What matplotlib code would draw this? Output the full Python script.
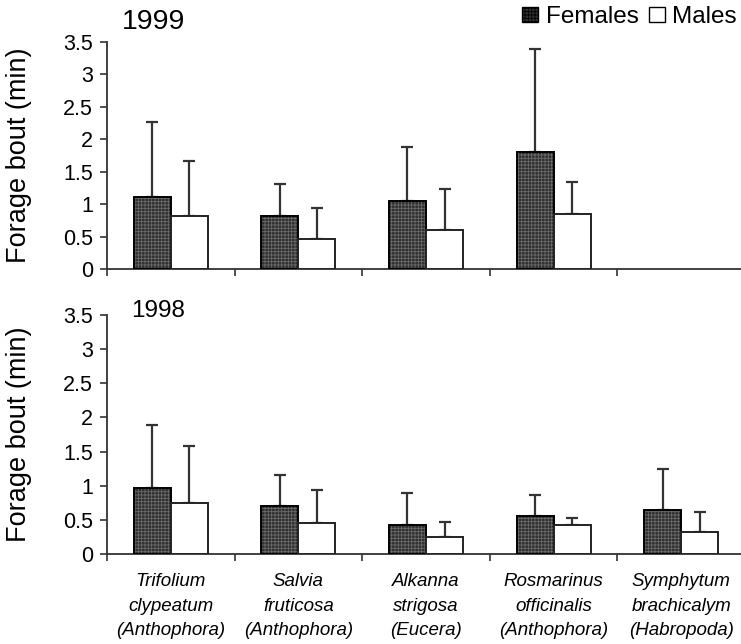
import numpy as np
import matplotlib
matplotlib.use("Agg")
import matplotlib.pyplot as plt
from matplotlib.patches import Patch

plt.rcParams['font.family'] = ['Liberation Sans', 'DejaVu Sans']
plt.rcParams['hatch.linewidth'] = 0.6

# plant species (bee genus) on the x axis
species = ['Trifolium\nclypeatum\n(Anthophora)',
           'Salvia\nfruticosa\n(Anthophora)',
           'Alkanna\nstrigosa\n(Eucera)',
           'Rosmarinus\nofficinalis\n(Anthophora)',
           'Symphytum\nbrachicalym\n(Habropoda)']

# 1999 (no data for Symphytum)
fem_1999 = [1.11, 0.82, 1.05, 1.80, np.nan]
fem_1999_sd = [1.16, 0.49, 0.83, 1.59, np.nan]
male_1999 = [0.82, 0.47, 0.60, 0.85, np.nan]
male_1999_sd = [0.84, 0.48, 0.64, 0.49, np.nan]

# 1998
fem_1998 = [0.96, 0.71, 0.43, 0.55, 0.65]
fem_1998_sd = [0.93, 0.44, 0.46, 0.32, 0.60]
male_1998 = [0.75, 0.45, 0.25, 0.43, 0.32]
male_1998_sd = [0.83, 0.48, 0.22, 0.10, 0.29]

yticks = [0, 0.5, 1, 1.5, 2, 2.5, 3, 3.5]
ytick_labels = ['0', '0.5', '1', '1.5', '2', '2.5', '3', '3.5']

W, H = 741, 644
fig = plt.figure(figsize=(W / 100, H / 100), dpi=100)
ax_top = fig.add_axes([107 / W, 1 - 269.3 / H, 638 / W, 227.6 / H])
ax_bot = fig.add_axes([107 / W, 1 - 554 / H, 638 / W, 239 / H])

bw = 0.29
x = np.arange(len(species)) + 0.5
axis_col = '#333333'


def draw_panel(ax, fem, fem_sd, male, male_sd):
    xf = x - bw / 2
    xm = x + bw / 2
    # textured dark bars for females
    ax.bar(xf, fem, bw, color='#2e2e2e', hatch='+++++', edgecolor='#6a6a6a',
           linewidth=0, zorder=2)
    ax.bar(xf, fem, bw, fill=False, edgecolor='black', linewidth=1.4, zorder=3)
    ax.bar(xm, male, bw, color='white', edgecolor='#222222', linewidth=1.4, zorder=3)
    # only upper error bars
    ax.errorbar(xf, fem, yerr=[np.zeros(len(fem)), fem_sd], fmt='none',
                ecolor=axis_col, elinewidth=1.6, capsize=4, capthick=1.6, zorder=1)
    ax.errorbar(xm, male, yerr=[np.zeros(len(male)), male_sd], fmt='none',
                ecolor=axis_col, elinewidth=1.6, capsize=4, capthick=1.6, zorder=1)

    ax.set_xlim(0, len(species))
    ax.set_ylim(0, 3.5)
    ax.set_yticks(yticks)
    ax.set_yticklabels(ytick_labels)
    ax.set_xticks(np.arange(len(species) + 1))
    ax.set_xticklabels([])
    for s in ['top', 'right']:
        ax.spines[s].set_visible(False)
    for s in ['left', 'bottom']:
        ax.spines[s].set_color(axis_col)
        ax.spines[s].set_linewidth(1.3)
    ax.tick_params(axis='y', direction='out', length=5, width=1.2,
                   color=axis_col, labelsize=15.5, pad=5)
    ax.tick_params(axis='x', which='major', direction='out', length=5,
                   width=1.2, color=axis_col)
    ax.set_ylabel('Forage bout (min)', fontsize=19.5)
    ax.yaxis.set_label_coords(-0.118, 0.5)


draw_panel(ax_top, fem_1999, fem_1999_sd, male_1999, male_1999_sd)
draw_panel(ax_bot, fem_1998, fem_1998_sd, male_1998, male_1998_sd)

ax_bot.set_xticks(x, minor=True)
ax_bot.set_xticklabels(species, minor=True, fontsize=13.5, style='italic',
                       linespacing=1.55)
ax_bot.tick_params(axis='x', which='minor', length=0, pad=14)

ax_top.text(0.0737, 1.087, '1999', transform=ax_top.transAxes, fontsize=20.5,
            ha='center', va='center')
ax_bot.text(0.08, 1.018, '1998', transform=ax_bot.transAxes, fontsize=17.5,
            ha='center', va='center')

handles = [Patch(facecolor='#333333', edgecolor='black', hatch='+++++', label='Females'),
           Patch(facecolor='white', edgecolor='black', label='Males')]
fig.legend(handles=handles, loc='upper right', bbox_to_anchor=(0.998, 0.994),
           ncol=2, frameon=False, fontsize=17.5, borderaxespad=0.0, borderpad=0.1,
           handlelength=0.65, handleheight=0.6, handletextpad=0.3,
           columnspacing=0.45)

fig.savefig('out.png', dpi=100)
